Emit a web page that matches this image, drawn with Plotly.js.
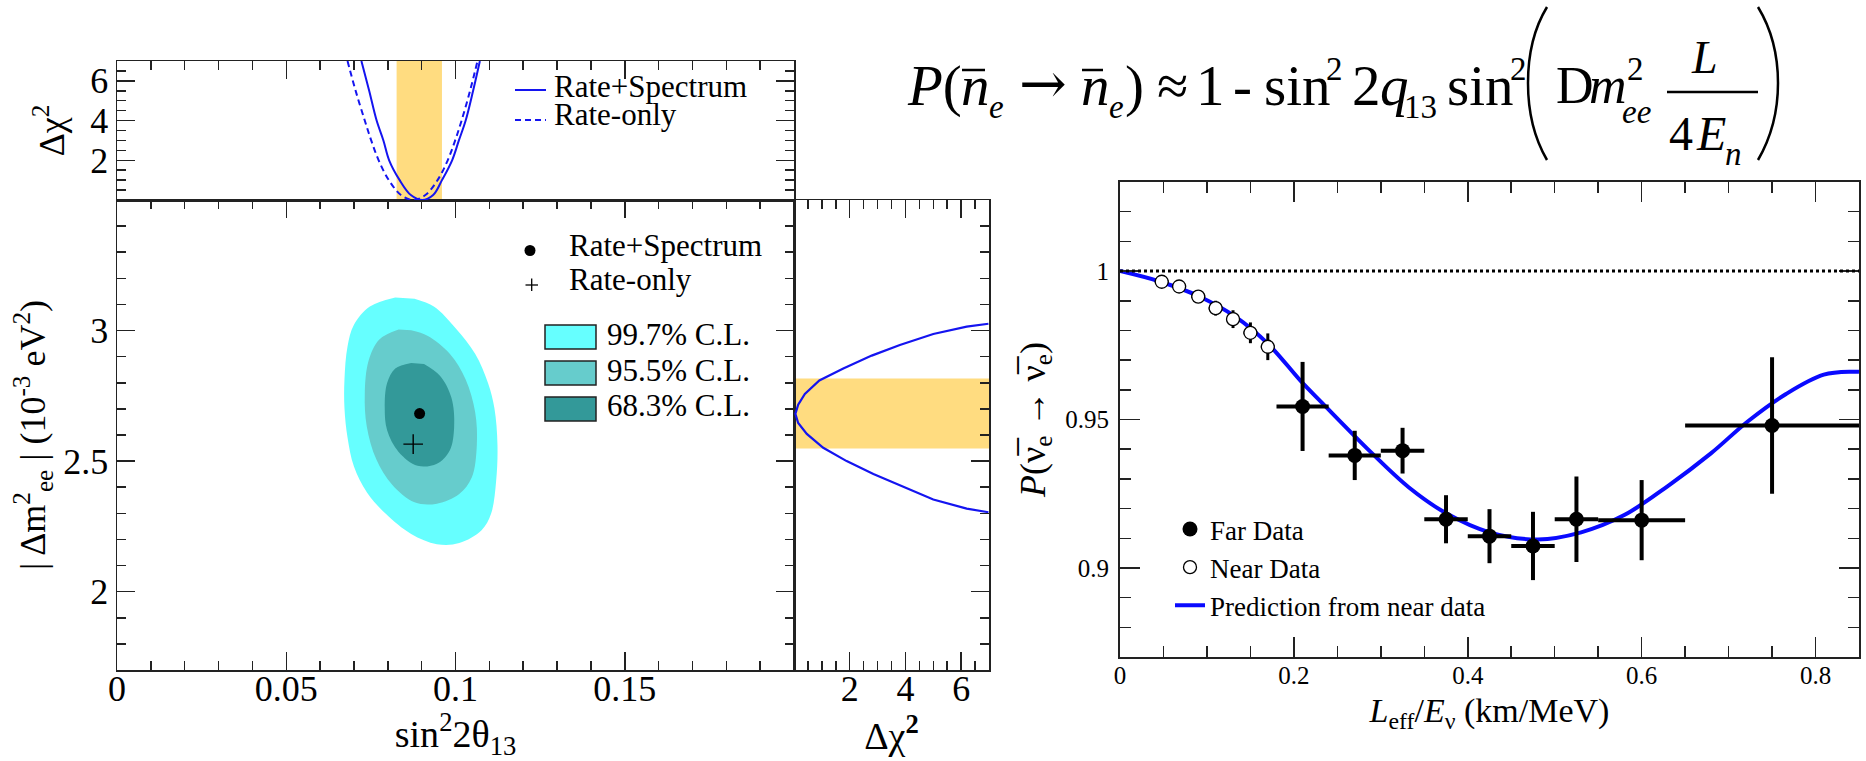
<!DOCTYPE html>
<html><head><meta charset="utf-8">
<script src="https://cdn.plot.ly/plotly-3.0.1.min.js"></script>
<style>html,body{margin:0;padding:0;background:#fff;}#chart{width:1866px;height:761px;}</style>
</head><body><div id="chart"></div>
<script>
// ---------------- data ----------------
// tick labels
const sinTicks = [0, 0.05, 0.1, 0.15, 0.2];
const sinTickText = ['0', '0.05', '0.1', '0.15', ''];
const dmTicks = [2, 2.5, 3];
const dmTickText = ['2', '2.5', '3'];
const chiTicks = [2, 4, 6];
const chiTickText = ['2', '4', '6'];
const leTicks = [0, 0.2, 0.4, 0.6, 0.8];
const leTickText = ['0', '0.2', '0.4', '0.6', '0.8'];
const pTicks = [0.9, 0.95, 1];
const pTickText = ['0.9', '0.95', '1'];

// top panel: delta chi2 vs sin^2 2theta13
const rsChi2Sin = [0.0722, 0.0745, 0.0767, 0.0787, 0.0804, 0.0835, 0.0868, 0.0902, 0.0934, 0.0960, 0.0990, 0.1010, 0.1030, 0.1052, 0.1072];
const rsChi2 = [7, 5.5, 4, 3, 2, 1, 0.25, 0, 0.25, 1, 2, 3, 4, 5.5, 7];
const roChi2Sin = [0.0681, 0.0705, 0.0732, 0.0751, 0.0773, 0.0803, 0.0839, 0.0875, 0.0911, 0.0947, 0.0977, 0.0999, 0.1018, 0.1043, 0.1065];
const roChi2 = [7, 5.5, 4, 3, 2, 1, 0.25, 0, 0.25, 1, 2, 3, 4, 5.5, 7];
const sinBand = [0.0826, 0.0960];

// main panel: confidence regions
const cl997Sin = [0.0822, 0.0747, 0.0700, 0.0681, 0.0672, 0.0672, 0.0681, 0.0700, 0.0738, 0.0794, 0.0869, 0.0945, 0.1011, 0.1077, 0.1105, 0.1120, 0.1124, 0.1115, 0.1096, 0.1058, 0.1001, 0.0936, 0.0879];
const cl997Dm = [3.127, 3.092, 3.022, 2.939, 2.813, 2.702, 2.590, 2.479, 2.381, 2.298, 2.221, 2.182, 2.186, 2.235, 2.298, 2.423, 2.562, 2.702, 2.799, 2.911, 3.008, 3.092, 3.122];
const cl955Sin = [0.0832, 0.0775, 0.0743, 0.0732, 0.0738, 0.0766, 0.0813, 0.0879, 0.0945, 0.1011, 0.1048, 0.1063, 0.1058, 0.1030, 0.0983, 0.0917, 0.0869];
const cl955Dm = [3.004, 2.966, 2.883, 2.757, 2.632, 2.507, 2.409, 2.342, 2.337, 2.374, 2.437, 2.562, 2.688, 2.813, 2.911, 2.980, 3.001];
const cl683Sin = [0.0869, 0.0822, 0.0798, 0.0791, 0.0798, 0.0832, 0.0888, 0.0945, 0.0983, 0.0996, 0.0988, 0.0954, 0.0907];
const cl683Dm = [2.876, 2.855, 2.799, 2.702, 2.618, 2.535, 2.482, 2.490, 2.541, 2.632, 2.743, 2.827, 2.872];
const bestSin = [0.0894];
const bestDm = [2.682];
const rateOnlySin = [0.0875];
const rateOnlyDm = [2.565];

// right panel: delta chi2 vs |dm2_ee|
const dmChi2 = [6.98, 6.2, 5.0, 3.8, 2.79, 1.77, 0.91, 0.39, 0.15, 0.05, 0.15, 0.46, 1.05, 1.89, 2.85, 3.92, 5.0, 6.2, 6.98];
const dmChi2Dm = [3.026, 3.015, 2.987, 2.945, 2.904, 2.855, 2.809, 2.757, 2.716, 2.681, 2.646, 2.604, 2.551, 2.500, 2.451, 2.402, 2.353, 2.318, 2.304];
const dmBand = [2.548, 2.816];

// survival probability figure
const predLE = [0, 0.0466, 0.09, 0.1334, 0.1706, 0.2078, 0.2327, 0.2885, 0.332, 0.3753, 0.425, 0.4808, 0.5304, 0.58, 0.6297, 0.6793, 0.7227, 0.7661, 0.8095, 0.8437, 0.85];
const predP = [1.0, 0.9964, 0.9916, 0.9845, 0.9754, 0.9630, 0.9555, 0.9390, 0.9272, 0.9184, 0.9120, 0.9096, 0.9120, 0.9178, 0.9275, 0.9385, 0.9495, 0.9586, 0.9651, 0.9661, 0.9661];
const nearLE = [0.048, 0.068, 0.09, 0.11, 0.13, 0.15, 0.17];
const nearP = [0.9964, 0.9948, 0.9914, 0.9875, 0.9838, 0.9792, 0.9745];
const nearErrP = [0.0015, 0.0018, 0.002, 0.0025, 0.003, 0.0035, 0.0045];
const nearErrLE = [0.008, 0.008, 0.008, 0.008, 0.008, 0.008, 0.008];
const farLE = [0.21, 0.27, 0.325, 0.375, 0.425, 0.475, 0.525, 0.60, 0.75];
const farP = [0.9544, 0.9379, 0.9395, 0.9164, 0.9107, 0.9074, 0.9164, 0.9161, 0.948];
const farErrP = [0.0150, 0.0083, 0.0077, 0.0081, 0.0091, 0.0115, 0.0144, 0.0135, 0.023];
const farErrLE = [0.03, 0.03, 0.025, 0.025, 0.025, 0.025, 0.025, 0.05, 0.10];
const noOscP = 1;

// ---------------- layout helpers ----------------
const W = 1866, H = 761;
const fx = p => p / W;
const fy = p => 1 - p / H;
const SERIF = 'Liberation Serif, Times New Roman, serif';
const DJSERIF = 'DejaVu Serif, serif';
const AXC = '#222';
const BLUE = '#1414f0';

function axis(extra) {
  return Object.assign({
    showline: true, linecolor: AXC, linewidth: 1.5, mirror: 'ticks',
    ticks: 'inside', tickcolor: AXC, tickwidth: 1.5,
    showgrid: false, zeroline: false, fixedrange: true,
    tickfont: {family: SERIF, size: 36, color: '#000'}
  }, extra);
}
function minor(dtick, len) {
  return {tickmode: 'linear', tick0: 0, dtick: dtick, ticks: 'inside', ticklen: len, tickwidth: 1.5, tickcolor: AXC, showgrid: false};
}

const traces = [
  {x: cl997Sin, y: cl997Dm, xaxis: 'x', yaxis: 'y', mode: 'lines', fill: 'toself', fillcolor: '#66ffff',
   line: {width: 0, color: '#66ffff', shape: 'spline'}, showlegend: false, hoverinfo: 'skip', name: '99.7% C.L.'},
  {x: cl955Sin, y: cl955Dm, xaxis: 'x', yaxis: 'y', mode: 'lines', fill: 'toself', fillcolor: '#66cccc',
   line: {width: 0, color: '#66cccc', shape: 'spline'}, showlegend: false, hoverinfo: 'skip', name: '95.5% C.L.'},
  {x: cl683Sin, y: cl683Dm, xaxis: 'x', yaxis: 'y', mode: 'lines', fill: 'toself', fillcolor: '#339999',
   line: {width: 0, color: '#339999', shape: 'spline'}, showlegend: false, hoverinfo: 'skip', name: '68.3% C.L.'},
  {x: bestSin, y: bestDm, xaxis: 'x', yaxis: 'y', mode: 'markers', marker: {symbol: 'circle', size: 11, color: '#000'},
   showlegend: false, name: 'Rate+Spectrum'},
  {x: rateOnlySin, y: rateOnlyDm, xaxis: 'x', yaxis: 'y', mode: 'markers',
   marker: {symbol: 'cross-thin', size: 14, color: '#000', line: {width: 1.4, color: '#000'}}, showlegend: false, name: 'Rate-only'},
  {x: rsChi2Sin, y: rsChi2, xaxis: 'x2', yaxis: 'y2', mode: 'lines', line: {color: BLUE, width: 2, shape: 'spline'},
   showlegend: false, name: 'Rate+Spectrum'},
  {x: roChi2Sin, y: roChi2, xaxis: 'x2', yaxis: 'y2', mode: 'lines', line: {color: BLUE, width: 2, dash: '6px,4px', shape: 'spline'},
   showlegend: false, name: 'Rate-only'},
  {x: dmChi2, y: dmChi2Dm, xaxis: 'x3', yaxis: 'y3', mode: 'lines', line: {color: BLUE, width: 2.2},
   showlegend: false, name: 'Rate+Spectrum'},
  {x: predLE, y: predP, xaxis: 'x4', yaxis: 'y4', mode: 'lines', line: {color: '#0a0aff', width: 4, shape: 'spline'},
   name: 'Prediction from near data', legendrank: 3},
  {x: nearLE, y: nearP, xaxis: 'x4', yaxis: 'y4', mode: 'markers',
   marker: {symbol: 'circle', size: 13, color: '#fff', line: {width: 1.3, color: '#000'}},
   error_y: {type: 'data', array: nearErrP, visible: true, thickness: 3, width: 0, color: '#000'},
   error_x: {type: 'data', array: nearErrLE, visible: true, thickness: 3, width: 0, color: '#000'},
   name: 'Near Data', legendrank: 2},
  {x: farLE, y: farP, xaxis: 'x4', yaxis: 'y4', mode: 'markers',
   marker: {symbol: 'circle', size: 15, color: '#000'},
   error_y: {type: 'data', array: farErrP, visible: true, thickness: 4, width: 0, color: '#000'},
   error_x: {type: 'data', array: farErrLE, visible: true, thickness: 4, width: 0, color: '#000'},
   name: 'Far Data', legendrank: 1}
];

function pathPx(cmds) {
  return cmds.map(c => typeof c === 'string' ? c : (fx(c[0]).toFixed(5) + ',' + fy(c[1]).toFixed(5))).join(' ');
}

const shapes = [
  // uncertainty bands
  {type: 'rect', xref: 'x2', yref: 'y2 domain', x0: sinBand[0], x1: sinBand[1], y0: 0, y1: 1,
   fillcolor: '#ffdc80', line: {width: 0}, layer: 'below'},
  {type: 'rect', xref: 'x3 domain', yref: 'y3', x0: 0, x1: 1, y0: dmBand[0], y1: dmBand[1],
   fillcolor: '#ffdc80', line: {width: 0}, layer: 'below'},
  // no-oscillation reference line
  {type: 'line', xref: 'x4 domain', yref: 'y4', x0: 0, x1: 1, y0: noOscP, y1: noOscP,
   line: {color: '#000', width: 3, dash: 'dot'}},
  // legend symbols (top panel)
  {type: 'line', xref: 'paper', yref: 'paper', x0: fx(515), x1: fx(546), y0: fy(90), y1: fy(90), line: {color: BLUE, width: 2}},
  {type: 'line', xref: 'paper', yref: 'paper', x0: fx(515), x1: fx(546), y0: fy(120), y1: fy(120), line: {color: BLUE, width: 2, dash: '6px,4px'}},
  // legend symbols (main panel)
  {type: 'circle', xref: 'paper', yref: 'paper', x0: fx(524.5), x1: fx(535.5), y0: fy(256), y1: fy(245), fillcolor: '#000', line: {width: 0}},
  {type: 'line', xref: 'paper', yref: 'paper', x0: fx(525.5), x1: fx(538), y0: fy(285), y1: fy(285), line: {color: '#000', width: 1.3}},
  {type: 'line', xref: 'paper', yref: 'paper', x0: fx(531.7), x1: fx(531.7), y0: fy(278.5), y1: fy(291), line: {color: '#000', width: 1.3}},
  {type: 'rect', xref: 'paper', yref: 'paper', x0: fx(545), x1: fx(596), y0: fy(349), y1: fy(325), fillcolor: '#66ffff', line: {color: '#222', width: 1.5}},
  {type: 'rect', xref: 'paper', yref: 'paper', x0: fx(545), x1: fx(596), y0: fy(385), y1: fy(361), fillcolor: '#66cccc', line: {color: '#222', width: 1.5}},
  {type: 'rect', xref: 'paper', yref: 'paper', x0: fx(545), x1: fx(596), y0: fy(421), y1: fy(397), fillcolor: '#339999', line: {color: '#222', width: 1.5}},
  // formula decorations: overbars, fraction bar, big parentheses
  {type: 'line', xref: 'paper', yref: 'paper', x0: fx(962), x1: fx(985), y0: fy(70), y1: fy(70), line: {color: '#000', width: 2.5}},
  {type: 'line', xref: 'paper', yref: 'paper', x0: fx(1082), x1: fx(1103), y0: fy(70), y1: fy(70), line: {color: '#000', width: 2.5}},
  {type: 'line', xref: 'paper', yref: 'paper', x0: fx(1667), x1: fx(1758), y0: fy(92), y1: fy(92), line: {color: '#000', width: 2.5}},
  {type: 'path', xref: 'paper', yref: 'paper', line: {color: '#000', width: 2.5},
   path: pathPx(['M', [1547, 7], 'C', [1533, 30], [1528, 55], [1528, 83], 'C', [1528, 111], [1533, 136], [1547, 160]])},
  {type: 'path', xref: 'paper', yref: 'paper', line: {color: '#000', width: 2.5},
   path: pathPx(['M', [1758, 7], 'C', [1772, 30], [1778, 55], [1778, 83], 'C', [1778, 111], [1772, 136], [1758, 160]])}
];

function txt(text, xpx, ypx, size, family) {
  return {text: text, xref: 'paper', yref: 'paper', x: fx(xpx), y: fy(ypx),
    xanchor: 'left', yanchor: 'middle', showarrow: false,
    font: {family: family || SERIF, size: size, color: '#000'}};
}

const annotations = [
  // top-panel legend
  txt('Rate+Spectrum', 552, 86, 31),
  txt('Rate-only', 552, 114.5, 31),
  // main-panel legend
  txt('Rate+Spectrum', 567, 245.5, 31),
  txt('Rate-only', 567, 279.5, 31),
  txt('99.7% C.L.', 605, 334.5, 31),
  txt('95.5% C.L.', 605, 370.5, 31),
  txt('68.3% C.L.', 605, 405.5, 31),
  // formula
  txt('<i>P</i>(', 905, 85.8, 57),
  txt('<i>n</i>', 959, 85.8, 57),
  txt('<i>e</i>', 987, 106.9, 33),
  txt('→', 1017, 83, 57, DJSERIF),
  txt('<i>n</i>', 1079, 85.8, 57),
  txt('<i>e</i>', 1107, 106.9, 33),
  txt(')', 1123, 85.8, 57),
  txt('≈', 1155, 85.8, 57),
  txt('1', 1194, 85.8, 57),
  txt('-', 1231, 85.8, 57),
  txt('sin', 1262, 85.8, 57),
  txt('2', 1324, 68.9, 33),
  txt('2', 1350, 85.8, 57),
  txt('<i>q</i>', 1378, 85.8, 57),
  txt('13', 1402, 107, 33),
  txt('sin', 1445, 85.8, 57),
  txt('2', 1508, 68.9, 33),
  txt('D', 1554, 85.5, 52),
  txt('<i>m</i>', 1587, 85.5, 52),
  txt('2', 1625, 69, 33),
  txt('<i>ee</i>', 1620, 112.2, 33),
  txt('<i>L</i>', 1689, 57.8, 46),
  txt('4', 1667, 133.8, 48),
  txt('<i>E</i>', 1694, 133.8, 48),
  txt('<i>n</i>', 1723, 153.9, 33)
];

const layout = {
  width: W, height: H,
  margin: {l: 0, r: 0, t: 0, b: 0},
  paper_bgcolor: '#fff', plot_bgcolor: '#fff',
  font: {family: SERIF, color: '#000'},
  showlegend: true,
  legend: {x: fx(1170), y: fy(505), xanchor: 'left', yanchor: 'top', bgcolor: 'rgba(0,0,0,0)',
           font: {family: SERIF, size: 27, color: '#000'}, itemwidth: 30, tracegroupgap: 0},
  // main contour panel
  xaxis: axis({domain: [fx(117), fx(794)], anchor: 'y', range: [0, 0.2], tickmode: 'array', tickvals: sinTicks, ticktext: sinTickText,
    ticklen: 18, minor: minor(0.01, 9), ticklabelstandoff: -14,
    title: {text: 'sin<sup>2</sup>2θ<sub>13</sub>', font: {family: SERIF, size: 38, color: '#000'}, standoff: 34}}),
  yaxis: axis({domain: [fy(670), fy(200)], anchor: 'x', range: [1.7, 3.5], tickmode: 'array', tickvals: dmTicks, ticktext: dmTickText,
    ticklen: 18, minor: minor(0.1, 9), ticklabelstandoff: 0,
    title: {text: '| Δm<sup>2</sup><sub>ee</sub> | (10<sup>-3</sup> eV<sup>2</sup>)', font: {family: SERIF, size: 36, color: '#000'}, standoff: 6}}),
  // top delta-chi2 panel
  xaxis2: axis({domain: [fx(117), fx(794)], anchor: 'y2', range: [0, 0.2], side: 'top', mirror: true, showticklabels: false,
    tickmode: 'linear', tick0: 0, dtick: 0.05, ticklen: 18, minor: minor(0.01, 9)}),
  yaxis2: axis({domain: [fy(200), fy(61)], anchor: 'x2', range: [0, 7], tickmode: 'array', tickvals: chiTicks, ticktext: chiTickText,
    ticklen: 18, minor: minor(0.5, 9), ticklabelstandoff: 0,
    title: {text: 'Δχ<sup>2</sup>', font: {family: SERIF, size: 36, color: '#000'}, standoff: 14}}),
  // right delta-chi2 panel
  xaxis3: axis({domain: [fx(794), fx(989)], anchor: 'y3', range: [0, 7], tickmode: 'array', tickvals: chiTicks, ticktext: chiTickText,
    ticklen: 18, minor: minor(0.5, 9), ticklabelstandoff: -14,
    title: {text: 'Δχ<sup><b>2</b></sup>', font: {family: SERIF, size: 38, color: '#000'}, standoff: 3}}),
  yaxis3: axis({domain: [fy(670), fy(200)], anchor: 'x3', range: [1.7, 3.5], side: 'right', mirror: true, showticklabels: false,
    tickmode: 'linear', tick0: 0, dtick: 0.5, ticklen: 18, minor: minor(0.1, 9)}),
  // survival probability panel
  xaxis4: axis({domain: [fx(1120), fx(1859)], anchor: 'y4', range: [0, 0.85], tickmode: 'array', tickvals: leTicks, ticktext: leTickText,
    ticklen: 20, minor: minor(0.05, 11), ticklabelstandoff: -5, tickfont: {family: SERIF, size: 25, color: '#000'}, linewidth: 2,
    title: {text: '<i>L</i><sub>eff</sub>/<i>E</i><sub>ν</sub> (km/MeV)', font: {family: SERIF, size: 34, color: '#000'}, standoff: 10}}),
  yaxis4: axis({domain: [fy(657), fy(182)], anchor: 'x4', range: [0.87, 1.03], tickmode: 'array', tickvals: pTicks, ticktext: pTickText,
    ticklen: 20, minor: minor(0.01, 11), ticklabelstandoff: 4, tickfont: {family: SERIF, size: 25, color: '#000'}, linewidth: 2,
    title: {text: '<i>P</i>(ν\u0305<sub>e</sub> → ν\u0305<sub>e</sub>)', font: {family: SERIF, size: 36, color: '#000'}, standoff: 9}}),
  shapes: shapes,
  annotations: annotations
};

Plotly.newPlot('chart', traces, layout, {staticPlot: true, displayModeBar: false});
</script>
</body></html>
